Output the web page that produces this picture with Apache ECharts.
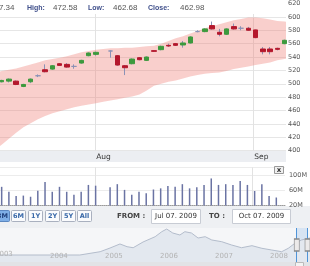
<!DOCTYPE html>
<html>
<head>
<meta charset="utf-8">
<script src="https://cdn.jsdelivr.net/npm/echarts@6/dist/echarts.min.js"></script>
<style>
html, body { margin: 0; padding: 0; background: #fff; }
#chart { width: 310px; height: 266px; }
</style>
</head>
<body>
<div id="chart"></div>
<script>
// trading days shown in the main panel (index 14 has no quote)
var days = ['Jul 15', 'Jul 16', 'Jul 17', 'Jul 20', 'Jul 21', 'Jul 22', 'Jul 23', 'Jul 24', 'Jul 27', 'Jul 28',
    'Jul 29', 'Jul 30', 'Jul 31', 'Aug 3', 'Aug 4', 'Aug 5', 'Aug 6', 'Aug 7', 'Aug 10', 'Aug 11',
    'Aug 12', 'Aug 13', 'Aug 14', 'Aug 17', 'Aug 18', 'Aug 19', 'Aug 20', 'Aug 21', 'Aug 24', 'Aug 25',
    'Aug 26', 'Aug 27', 'Aug 28', 'Aug 31', 'Sep 1', 'Sep 2', 'Sep 3', 'Sep 4', 'Sep 8', 'Sep 9'];

// index, open, close, low, high
var quotes = [
    [0, 503, 505, 502, 506], [1, 504, 507, 502, 508], [2, 504, 499, 498, 505], [3, 496, 499, 495, 500],
    [4, 503, 507, 501, 508], [5, 512, 512, 510, 514], [6, 521, 518, 517, 529], [7, 522, 527, 521, 528],
    [8, 530, 527.5, 527, 531], [9, 529, 525, 524, 531], [10, 526, 526, 522.5, 529], [11, 531, 535, 530, 536],
    [12, 542, 546, 541, 547], [13, 544, 547, 542, 548],
    [15, 549, 549, 539, 550], [16, 542, 528, 527, 543], [17, 527, 524, 513, 528], [18, 530, 537, 529, 538],
    [19, 539, 536, 535, 540], [20, 535, 540, 534, 541], [21, 549.5, 548.5, 548, 550], [22, 551, 556, 550, 557],
    [23, 557.5, 556.5, 555, 560], [24, 560, 557.5, 556.5, 561], [25, 558, 561, 554, 564], [26, 561, 570, 560, 571],
    [27, 578, 578, 577, 580], [28, 578, 582, 577, 583], [29, 587, 582, 581, 593], [30, 577, 574, 571, 582],
    [31, 574, 582, 573, 583], [32, 585.5, 582, 581, 590], [33, 583, 583, 580, 586], [34, 583, 580, 579, 585],
    [35, 580.5, 569, 568, 581], [36, 552, 548, 544, 555], [37, 552, 548, 544, 555], [38, 553, 551.5, 550, 554],
    [39, 560, 565, 559, 566]
];

// volume in millions
var volume = [
    [0, 69], [1, 56], [2, 45], [3, 46], [4, 43], [5, 59], [6, 82], [7, 56], [8, 69], [9, 56],
    [10, 48], [11, 56], [12, 74], [13, 72], [15, 68], [16, 76], [17, 61], [18, 48], [19, 56], [20, 52],
    [21, 62], [22, 65], [23, 71], [24, 69], [25, 76], [26, 65], [27, 68], [28, 74], [29, 91], [30, 74],
    [31, 76], [32, 74], [33, 84], [34, 74], [35, 58], [36, 76], [37, 45], [38, 41]
];

// price envelope, index -1 and 40 are just outside the view
var bandX = [-1, 0, 1, 2, 3, 4, 5, 6, 7, 8, 9, 10, 11, 12, 13, 14, 15, 16, 17, 18, 19, 20,
    21, 22, 23, 24, 25, 26, 27, 28, 29, 30, 31, 32, 33, 34, 35, 36, 37, 38, 39, 40];
var bandUpper = [517, 519, 521, 523, 526, 529, 532, 535, 537, 539, 541, 544, 547, 549, 551, 552, 553, 553, 554, 554, 555, 556,
    557, 560, 564, 568, 571, 575, 579, 583, 586, 589, 592, 595, 597, 599, 599, 598, 596, 594, 593, 592];
var bandLower = [400, 409, 418, 427, 435, 441, 447, 452, 456, 459, 462, 465, 467, 469, 471, 473, 475, 477, 479, 481, 484, 490,
    497, 500, 503, 505, 508, 511, 513, 515, 516, 517, 519, 522, 524, 526, 528, 530, 532, 535, 537, 539];

var monthTicks = [12.9, 34.7];
var monthNames = ['Aug', 'Sep'];

// navigator: year, price
var navYears = [2003.0, 2004.02, 2004.56, 2004.93, 2005.11, 2005.29, 2005.42, 2005.53, 2005.71, 2005.93,
    2006.05, 2006.14, 2006.25, 2006.38, 2006.47, 2006.59, 2006.71, 2006.84, 2006.96, 2007.14,
    2007.32, 2007.5, 2007.69, 2007.87, 2008.05, 2008.23, 2008.35, 2008.47, 2008.59, 2008.8];
var navPrice = [144, 144, 144, 212, 288, 371, 315, 294, 412, 521,
    624, 679, 597, 556, 624, 597, 494, 521, 453, 418,
    350, 294, 336, 282, 247, 212, 282, 385, 453, 510];
var navYearTicks = [2004, 2005, 2006, 2007, 2008];
var navSelection = [2008.504, 2008.70];

var quoteLabels = ['Open:', 'High:', 'Low:', 'Close:'];
var quoteValues = ['467.34', '472.58', '462.68', '462.98'];
var rangeButtons = ['3M', '6M', '1Y', '2Y', '5Y', 'All'];
var fromDate = 'Jul 07. 2009';
var toDate = 'Oct 07. 2009';

var upColor = '#3d9a3d';
var downColor = '#b4172c';
var wickColor = '#8b92b6';
var font = 'DejaVu Sans';

var bodies = quotes.map(function (q) {
    return [q[0], q[1], q[2], Math.min(q[1], q[2]), Math.max(q[1], q[2])];
});
var navPts = navYears.map(function (y, i) { return [y, navPrice[i]]; });

function renderBand(params, api) {
    if (params.dataIndex !== 0) return;
    var pts = [];
    var i;
    for (i = 0; i < bandX.length; i++) pts.push(api.coord([bandX[i], bandUpper[i]]));
    for (i = bandX.length - 1; i >= 0; i--) pts.push(api.coord([bandX[i], bandLower[i]]));
    var cs = params.coordSys;
    return {
        type: 'polygon',
        shape: { points: pts },
        style: { fill: 'rgba(240,128,120,0.38)' },
        clipPath: { type: 'rect', shape: { x: cs.x, y: cs.y, width: cs.width, height: cs.height } }
    };
}

var graphics = [];
// header
graphics.push({ type: 'rect', shape: { x: 0, y: 0, width: 286, height: 14 }, style: { fill: '#fff' }, z: 10 });
var labelX = [-34, 27, 88, 148];
var valueX = [-10, 53, 113, 180];
quoteLabels.forEach(function (l, i) {
    graphics.push({ type: 'text', x: labelX[i], y: 8, z: 11,
        style: { text: l, font: 'bold 7px "Liberation Sans"', fill: '#3e4e8a', verticalAlign: 'middle' } });
    graphics.push({ type: 'text', x: valueX[i], y: 8, z: 11,
        style: { text: quoteValues[i], font: '8px "Liberation Sans"', fill: '#555', verticalAlign: 'middle' } });
});
// date strip
graphics.push({ type: 'rect', shape: { x: 0, y: 151, width: 286, height: 11 }, style: { fill: '#eceef2' }, z: -1 });
// toolbar row and navigator background
graphics.push({ type: 'rect', shape: { x: 0, y: 206, width: 310, height: 22 }, style: { fill: '#eef0f3' }, z: -1 });
graphics.push({ type: 'rect', shape: { x: 0, y: 228, width: 310, height: 34 }, style: { fill: '#f5f6f8' }, z: -1 });
graphics.push({ type: 'rect', shape: { x: 0, y: 262, width: 310, height: 4 }, style: { fill: '#e2e3e6' }, z: -1 });
graphics.push({ type: 'rect', shape: { x: 295.5, y: 262.5, width: 8, height: 4 },
    style: { fill: '#f3f3f3', stroke: '#bbb', lineWidth: 1 }, z: 10 });
// first navigator year, its tick lies just left of the view
graphics.push({ type: 'text', x: -5, y: 258, z: 11,
    style: { text: '2003', font: '7px "DejaVu Sans"', fill: '#b3b3b3', verticalAlign: 'bottom' } });
// close button of the volume pane
graphics.push({ type: 'rect', shape: { x: 274.5, y: 166.5, width: 9, height: 7 },
    style: { fill: '#f0f0f0', stroke: '#999', lineWidth: 1 }, z: 10 });
graphics.push({ type: 'text', x: 279, y: 170, z: 11,
    style: { text: 'x', font: 'bold 7px "DejaVu Sans"', fill: '#333', align: 'center', verticalAlign: 'middle' } });
// range buttons
var btnX = [-5, 11, 28, 45, 61, 77];
rangeButtons.forEach(function (b, i) {
    var sel = i === 0;
    graphics.push({ type: 'rect', shape: { x: btnX[i] + 0.5, y: 210.5, width: 14, height: 11, r: 1 },
        style: { fill: sel ? '#7eaee6' : '#fafbfd', stroke: sel ? '#5b87c0' : '#a9b0bf', lineWidth: 1 }, z: 10 });
    graphics.push({ type: 'text', x: btnX[i] + 7.5, y: 216.5, z: 11,
        style: { text: b, font: 'bold 6.5px "DejaVu Sans"', fill: sel ? '#1f3f7a' : '#3868a8',
            align: 'center', verticalAlign: 'middle' } });
});
graphics.push({ type: 'text', x: 117, y: 216.5, z: 11,
    style: { text: 'FROM :', font: 'bold 7px "DejaVu Sans"', fill: '#444', verticalAlign: 'middle' } });
graphics.push({ type: 'rect', shape: { x: 151.5, y: 209.5, width: 49, height: 14 },
    style: { fill: '#fff', stroke: '#c8ccd4', lineWidth: 1 }, z: 10 });
graphics.push({ type: 'text', x: 176, y: 216.5, z: 11,
    style: { text: fromDate, font: '7px "DejaVu Sans"', fill: '#333', align: 'center', verticalAlign: 'middle' } });
graphics.push({ type: 'text', x: 209, y: 216.5, z: 11,
    style: { text: 'TO :', font: 'bold 7px "DejaVu Sans"', fill: '#444', verticalAlign: 'middle' } });
graphics.push({ type: 'rect', shape: { x: 232.5, y: 209.5, width: 58, height: 14 },
    style: { fill: '#fff', stroke: '#c8ccd4', lineWidth: 1 }, z: 10 });
graphics.push({ type: 'text', x: 261.5, y: 216.5, z: 11,
    style: { text: toDate, font: '7px "DejaVu Sans"', fill: '#333', align: 'center', verticalAlign: 'middle' } });

var chart = echarts.init(document.getElementById('chart'), null, { renderer: 'canvas' });
chart.setOption({
    animation: false,
    backgroundColor: '#fff',
    textStyle: { fontFamily: font },
    grid: [
        { left: 0, top: 2.9, width: 286, height: 147.8 },
        { left: 0, top: 167.4, width: 286, height: 38.1 },
        { left: 0, top: 228, width: 310, height: 34 }
    ],
    xAxis: [
        { type: 'value', gridIndex: 0, min: -0.23, max: 39.2,
            axisLine: { show: false }, axisTick: { show: false, customValues: monthTicks },
            axisLabel: { customValues: monthTicks, formatter: function (v) { return monthNames[monthTicks.indexOf(v)]; },
                align: 'left', padding: [0, 0, 0, 1], margin: 2, fontSize: 7.5, color: '#333', fontFamily: font },
            splitLine: { show: true, lineStyle: { color: '#e2e2e2' } } },
        { type: 'value', gridIndex: 1, min: -0.23, max: 39.2,
            axisLine: { show: true, lineStyle: { color: '#9a9a9a', type: 'dotted' } },
            axisTick: { show: false, customValues: monthTicks }, axisLabel: { show: false },
            splitLine: { show: true, lineStyle: { color: '#e2e2e2' } } },
        { type: 'value', gridIndex: 2, min: 2003.109, max: 2008.745, z: 10,
            axisLine: { show: false }, axisTick: { show: false, customValues: navYearTicks },
            axisLabel: { customValues: navYearTicks, inside: true, align: 'left', padding: [0, 0, 0, 1],
                margin: 2, fontSize: 7, color: '#b3b3b3', fontFamily: font,
                formatter: function (v) { return String(v); } },
            splitLine: { show: false } }
    ],
    yAxis: [
        { type: 'value', gridIndex: 0, position: 'right', min: 400, max: 620, interval: 20,
            axisLine: { show: false }, axisTick: { show: false },
            axisLabel: { margin: 2, fontSize: 6.5, color: '#555', fontFamily: font },
            splitLine: { lineStyle: { color: '#e6e6e6' } } },
        { type: 'value', gridIndex: 1, position: 'right', min: 20, max: 120, interval: 40,
            axisLine: { show: false }, axisTick: { show: false },
            axisLabel: { margin: 4, fontSize: 6.5, color: '#555', fontFamily: font, showMaxLabel: false,
                formatter: function (v) { return v + 'M'; } },
            splitLine: { lineStyle: { color: '#ececec' } } },
        { type: 'value', gridIndex: 2, min: 0, max: 700, show: false }
    ],
    series: [
        { type: 'custom', xAxisIndex: 0, yAxisIndex: 0, data: [[0, 500]], renderItem: renderBand, silent: true, z: 1 },
        { type: 'candlestick', xAxisIndex: 0, yAxisIndex: 0, data: quotes, barWidth: 1,
            encode: { x: 0, y: [1, 2, 3, 4] },
            itemStyle: { color: wickColor, color0: wickColor, borderColor: wickColor, borderColor0: wickColor,
                borderColorDoji: wickColor, borderWidth: 1 } },
        { type: 'candlestick', xAxisIndex: 0, yAxisIndex: 0, data: bodies, barWidth: 5,
            encode: { x: 0, y: [1, 2, 3, 4] },
            itemStyle: { color: upColor, color0: downColor, borderColor: upColor, borderColor0: downColor,
                borderColorDoji: wickColor, borderWidth: 1 } },
        { type: 'bar', xAxisIndex: 1, yAxisIndex: 1, data: volume, barWidth: 1.5,
            itemStyle: { color: '#6a73a3' } },
        { type: 'line', xAxisIndex: 2, yAxisIndex: 2, data: navPts, symbol: 'none', z: 1,
            lineStyle: { color: '#b3bccb', width: 1 }, areaStyle: { color: '#e3e8ef', opacity: 1 },
            markArea: { silent: true, itemStyle: { color: 'rgba(160,195,235,0.35)' },
                data: [[{ xAxis: navSelection[0] }, { xAxis: navSelection[1] }]] },
            markLine: { silent: true, symbol: 'none', label: { show: false },
                lineStyle: { color: '#4f94d8', width: 1, type: 'solid' },
                data: [{ xAxis: navSelection[0] }, { xAxis: navSelection[1] }] },
            markPoint: { silent: true, symbol: 'rect', symbolSize: [5, 12], label: { show: false },
                itemStyle: { color: '#eceaea', borderColor: '#888', borderWidth: 1 },
                data: [{ coord: [navSelection[0], 350] }, { coord: [navSelection[1], 350] }] } }
    ],
    graphic: graphics
});
</script>
</body>
</html>
